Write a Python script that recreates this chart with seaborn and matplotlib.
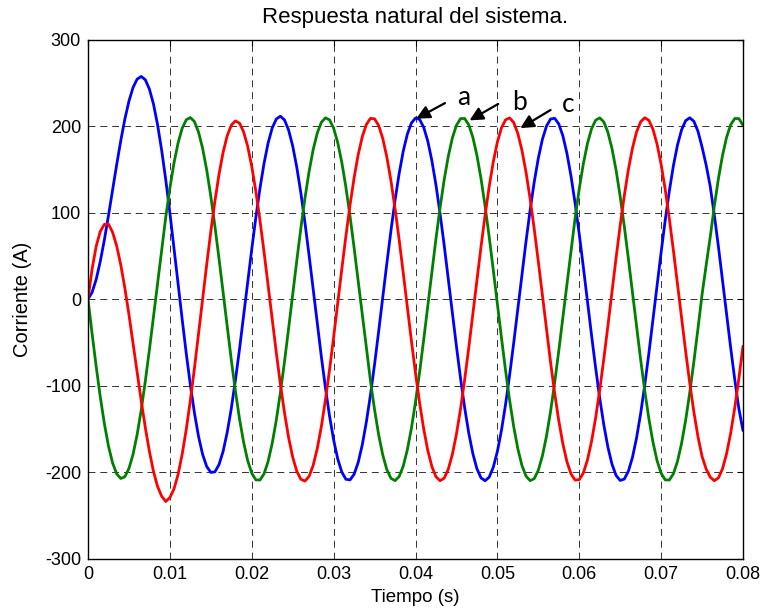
import numpy as np
import pandas as pd
import matplotlib
matplotlib.use("Agg")
import matplotlib.pyplot as plt
import seaborn as sns

# Corrientes, una muestra cada 0.5 ms (0 a 80 ms)
tiempo = np.arange(161) * 0.0005

fase_a = [0, 8.0, 23.0, 43.8, 68.8, 96.8, 126.2, 155.6, 183.4, 208.4,
          229.2, 245.0, 254.7, 257.8, 254.0, 243.2, 225.8, 201.8, 172.2, 138.0,
          100.1, 59.7, 18.2, -23.0, -62.6, -99.2, -131.5, -158.7, -179.6, -193.6,
          -200.4, -199.7, -191.4, -176.1, -154.1, -126.5, -94.0, -58.1, -19.9, 19.2,
          57.9, 94.6, 128.1, 157.2, 180.9, 198.2, 208.6, 211.8, 207.5, 195.8,
          177.4, 152.8, 122.8, 88.4, 51.0, 11.8, -27.8, -66.4, -102.5, -135.1,
          -162.7, -184.7, -200.0, -208.3, -209.1, -202.5, -188.8, -168.4, -141.9, -110.7,
          -75.3, -37.2, 2.2, 41.5, 79.3, 114.4, 145.3, 171.2, 190.9, 203.9,
          209.7, 208.1, 199.0, 183.0, 160.4, 132.2, 99.2, 62.8, 24.1, -15.4,
          -54.4, -91.4, -125.2, -154.6, -178.5, -196.1, -206.7, -210.0, -205.9, -194.4,
          -176.1, -151.6, -121.7, -87.4, -50.1, -11.0, 28.5, 67.0, 103.1, 135.6,
          163.2, 185.1, 200.4, 208.6, 209.4, 202.8, 189.1, 168.6, 142.1, 110.7,
          75.3, 37.2, -2.2, -41.5, -79.3, -114.4, -145.3, -171.2, -190.9, -203.9,
          -209.7, -208.1, -199.0, -183.0, -160.4, -132.2, -99.2, -62.8, -24.1, 15.4,
          54.4, 91.4, 125.2, 154.6, 178.5, 196.1, 206.7, 210.0, 205.9, 194.4,
          176.1, 155.3, 130.4, 97.3, 60.7, 21.9, -17.6, -56.5, -93.4, -127.0,
          -152.0]

fase_b = [0, -39.7, -77.9, -113.0, -144.0, -169.8, -189.3, -202.0, -207.4, -205.4,
          -195.9, -179.5, -156.6, -128.1, -94.9, -58.4, -19.8, 19.7, 58.4, 95.2,
          128.5, 157.5, 180.8, 197.8, 207.7, 210.2, 205.6, 193.4, 174.6, 149.5,
          119.1, 84.5, 47.1, 7.8, -31.7, -70.1, -105.9, -138.1, -165.2, -186.6,
          -201.3, -209.0, -209.2, -202.0, -187.6, -166.6, -139.7, -107.8, -72.2, -33.9,
          5.5, 44.7, 82.4, 117.1, 147.7, 173.1, 192.3, 204.7, 209.9, 207.6,
          197.9, 181.3, 158.3, 129.6, 96.3, 59.6, 20.9, -18.7, -57.5, -94.4,
          -127.8, -156.8, -180.2, -197.2, -207.2, -209.9, -205.2, -193.2, -174.3, -149.3,
          -118.9, -84.4, -46.9, -7.7, 31.8, 70.1, 105.9, 138.1, 165.2, 186.6,
          201.3, 209.0, 209.2, 202.0, 187.6, 166.6, 139.7, 107.8, 72.2, 33.9,
          -5.5, -44.7, -82.4, -117.1, -147.7, -173.1, -192.3, -204.7, -209.9, -207.6,
          -197.9, -181.3, -158.3, -129.6, -96.3, -59.6, -20.9, 18.7, 57.5, 94.4,
          127.8, 156.8, 180.2, 197.2, 207.2, 209.9, 205.2, 193.2, 174.3, 149.3,
          118.9, 84.4, 46.9, 7.7, -31.8, -70.1, -105.9, -138.1, -165.2, -186.6,
          -201.3, -209.0, -209.2, -202.0, -187.6, -166.6, -139.7, -107.8, -72.2, -33.9,
          5.5, 39.4, 72.2, 107.8, 139.7, 166.6, 187.6, 202.0, 209.2, 209.0,
          201.3]

fase_c = [0, 35.0, 61.3, 78.5, 86.7, 87.0, 77.6, 61.9, 39.9, 13.0,
          -17.7, -50.7, -84.4, -117.5, -148.5, -176.1, -199.3, -216.8, -228.0, -234.0,
          -229.5, -219.6, -202.8, -179.5, -150.6, -117.0, -79.9, -40.4, 0.1, 40.2,
          78.4, 113.5, 144.4, 169.9, 189.1, 201.3, 206.4, 203.8, 193.9, 177.0,
          153.7, 124.9, 91.5, 54.8, 16.1, -23.3, -61.9, -98.4, -131.4, -159.9,
          -182.7, -199.0, -208.3, -210.4, -205.0, -192.3, -172.8, -147.3, -116.5, -81.7,
          -44.0, -4.4, 35.0, 73.2, 108.8, 140.5, 167.3, 188.1, 202.3, 209.3,
          208.8, 201.0, 186.1, 164.6, 137.2, 105.0, 69.1, 30.7, -8.8, -48.0,
          -85.4, -119.8, -150.0, -174.9, -193.6, -205.4, -210.0, -207.1, -196.8, -179.6,
          -156.1, -127.0, -93.4, -56.5, -17.6, 21.9, 60.7, 97.3, 130.4, 159.0,
          181.9, 198.3, 207.7, 209.8, 204.5, 191.8, 172.4, 146.9, 116.2, 81.4,
          43.7, 4.4, -35.0, -73.2, -108.8, -140.5, -167.3, -188.1, -202.3, -209.3,
          -208.8, -201.0, -186.1, -164.6, -137.2, -105.0, -69.1, -30.7, 8.8, 48.0,
          85.4, 119.8, 150.0, 174.9, 193.6, 205.4, 210.0, 207.1, 196.8, 179.6,
          156.1, 127.0, 93.4, 56.5, 17.6, -21.9, -60.7, -97.3, -130.4, -159.0,
          -181.9, -196.4, -205.9, -210.0, -206.7, -196.1, -178.5, -154.6, -125.2, -91.4,
          -54.4]

x_ticks = [0, 0.01, 0.02, 0.03, 0.04, 0.05, 0.06, 0.07, 0.08]
x_labels = ["0", "0.01", "0.02", "0.03", "0.04", "0.05", "0.06", "0.07", "0.08"]
y_ticks = [-300, -200, -100, 0, 100, 200, 300]
y_labels = ["-300", "-200", "-100", "0", "100", "200", "300"]

colores = {"a": "#0000ff", "b": "#008000", "c": "#ff0000"}

df = pd.DataFrame({"Tiempo": tiempo, "a": fase_a, "b": fase_b, "c": fase_c})
df = df.melt(id_vars="Tiempo", var_name="fase", value_name="Corriente")

sns.set_style("white")
plt.rcParams["font.family"] = ["Liberation Sans", "DejaVu Sans"]
plt.rcParams["lines.scale_dashes"] = False
plt.rcParams["text.color"] = "black"
plt.rcParams["axes.labelcolor"] = "black"

fig = plt.figure(figsize=(7.65, 6.13), dpi=100)
ax = fig.add_axes([88 / 765, 1 - 558.5 / 613, 655 / 765, 518.5 / 613])

sns.lineplot(data=df, x="Tiempo", y="Corriente", hue="fase", palette=colores,
             hue_order=["a", "b", "c"], estimator=None, sort=False,
             linewidth=2.0, legend=False, ax=ax)

ax.set_xlim(0, 0.08)
ax.set_ylim(-300, 300)
ax.set_xticks(x_ticks)
ax.set_xticklabels(x_labels)
ax.set_yticks(y_ticks)
ax.set_yticklabels(y_labels)
ax.grid(True, color="0.2", linestyle=(0, (5, 3.5)), linewidth=0.7)
ax.set_axisbelow(True)
ax.tick_params(direction="in", length=4, width=0.8, top=True, right=True,
               labelsize=13, colors="black")
ax.tick_params(axis="x", pad=5.5)
ax.tick_params(axis="y", pad=5)
for s in ax.spines.values():
    s.set_color("black")
    s.set_linewidth(1.0)

ax.set_title("Respuesta natural del sistema.", fontsize=16, pad=12, color="black")
ax.set_xlabel("Tiempo (s)", fontsize=13.5, labelpad=4)
ax.set_ylabel("Corriente (A)", fontsize=14.5, labelpad=9)

# etiquetas de las fases con flechas
flecha = dict(arrowstyle="-|>", color="black", lw=1.6, mutation_scale=20,
              shrinkA=0, shrinkB=0)
ax.annotate("", xy=(0.0401, 209), xytext=(0.0436, 227), arrowprops=flecha)
ax.annotate("", xy=(0.0466, 207), xytext=(0.0501, 226), arrowprops=flecha)
ax.annotate("", xy=(0.0528, 198), xytext=(0.0565, 219), arrowprops=flecha)
ax.text(0.0459, 224.6, "a", fontsize=19, family="Lato", ha="center", va="baseline")
ax.text(0.0527, 219, "b", fontsize=19, family="Lato", ha="center", va="baseline")
ax.text(0.0587, 217, "c", fontsize=19, family="Lato", ha="center", va="baseline")

fig.savefig("out.png", dpi=100)
